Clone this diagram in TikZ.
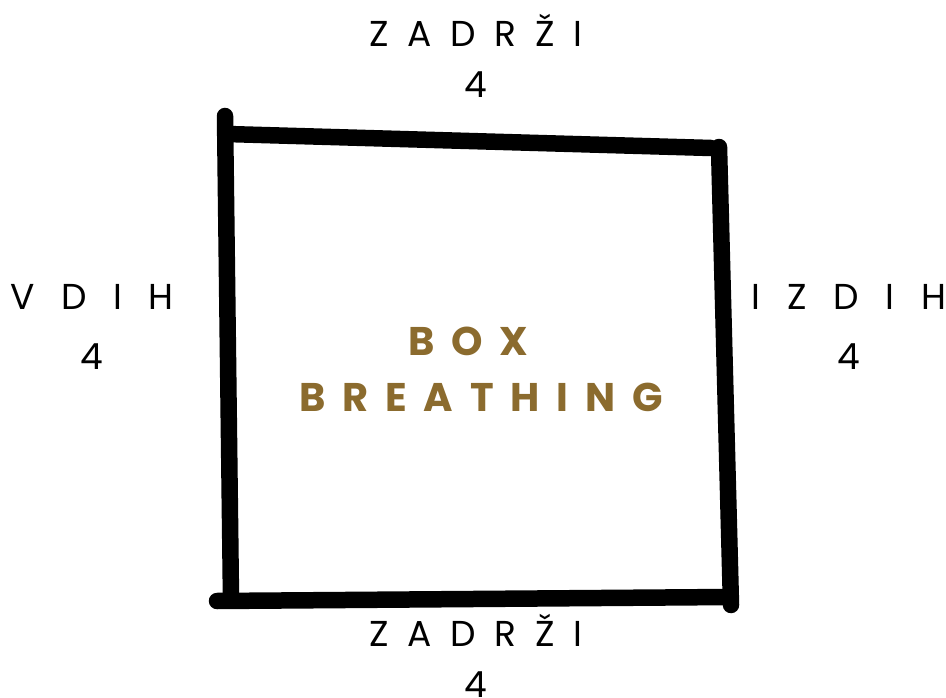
\documentclass[tikz,border=0pt]{standalone}
\usepackage{fontspec}
\setmainfont{Poppins}
\definecolor{gold}{HTML}{8B6B2E}
\newcommand\gp{\hspace{0.52em}}
\newcommand\gv{\hspace{0.74em}}
\newcommand\gb{\hspace{0.42em}}
\tikzset{
  stroke/.style={line width=16.5pt, line cap=round, line join=round, black},
  lbl/.style={font=\fontsize{36}{36}\selectfont, inner sep=0pt, anchor=base, text=black},
  ttl/.style={font=\fontsize{40}{40}\selectfont\bfseries, inner sep=0pt, anchor=base, text=gold}
}
\begin{document}
\begin{tikzpicture}[x=1pt,y=-1pt]
\useasboundingbox (0,0) rectangle (946,698);
\fill[white] (0,0) rectangle (946,698);
% hand drawn box
\coordinate (lt) at (225,116);
\coordinate (lb) at (231,599);
\coordinate (tl) at (227,134);
\coordinate (tr) at (711,148);
\coordinate (rt) at (719,147);
\coordinate (rb) at (731,605);
\coordinate (bl) at (217,601);
\coordinate (br) at (729,597);
\draw[stroke] (lt) -- (lb);
\draw[stroke] (tl) -- (tr);
\draw[stroke] (rt) -- (rb);
\draw[stroke] (bl) -- (br);
% labels
\node[lbl] (top) at (476,47) {Z\gp A\gp D\gp R\gp Ž\gp I};
\node[lbl] (topn) at (476,98) {4};
\node[lbl] (bot) at (476,646) {Z\gp A\gp D\gp R\gp Ž\gp I};
\node[lbl] (botn) at (476,697) {4};
\node[lbl] (left) at (92,309) {V\gv D\gv I\gv H};
\node[lbl] (leftn) at (92,369) {4};
\node[lbl] (right) at (849,309) {I\gv Z\gv D\gv I\gv H};
\node[lbl] (rightn) at (849,369) {4};
\node[ttl] (box) at (468,355) {B\gb O\gb X};
\node[ttl] (breath) at (481,411) {B\gb R\gb E\gb A\gb T\gb H\gb I\gb N\gb G};
\end{tikzpicture}
\end{document}
